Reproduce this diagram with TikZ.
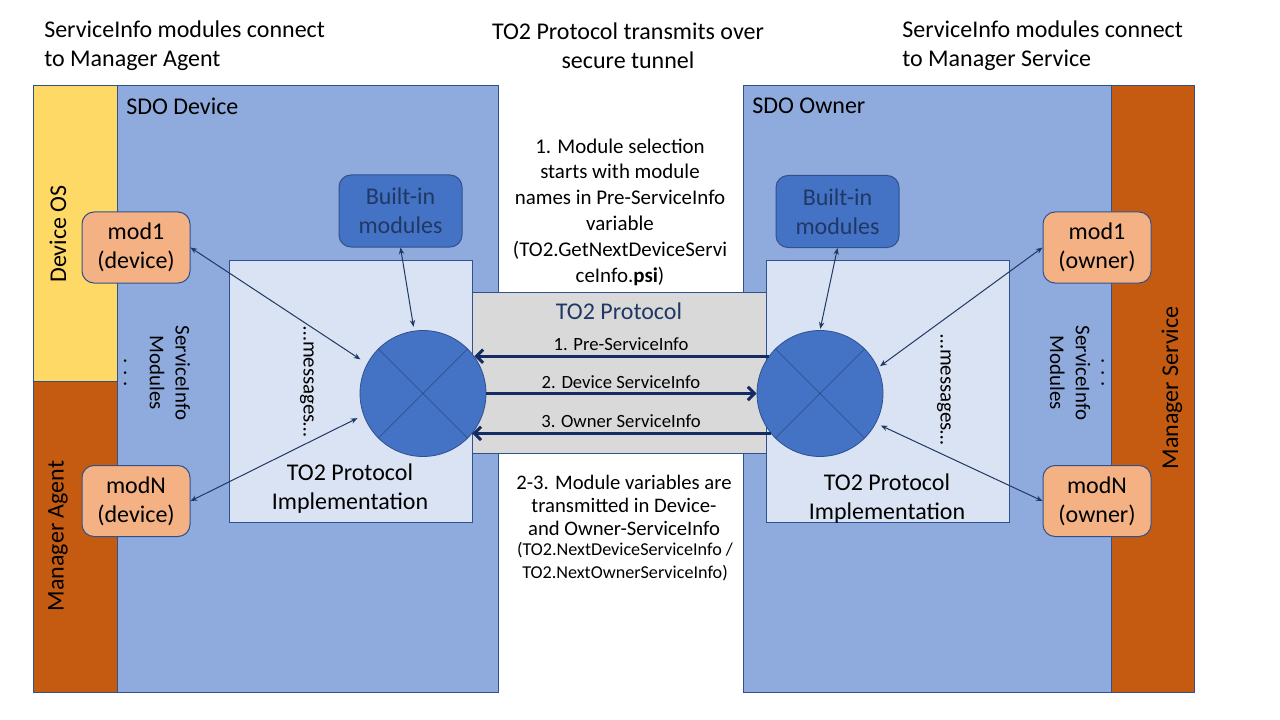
\documentclass[tikz,border=0pt]{standalone}
\usepackage{fontspec}
\setmainfont{Carlito}
\usetikzlibrary{arrows.meta}
\definecolor{panel}{HTML}{8FAADC}
\definecolor{impl}{HTML}{DAE3F3}
\definecolor{osy}{HTML}{FFD966}
\definecolor{mgr}{HTML}{C55A11}
\definecolor{modc}{HTML}{F4B183}
\definecolor{band}{HTML}{D9D9D9}
\definecolor{edge}{HTML}{2F528F}
\definecolor{navy}{HTML}{203864}
\definecolor{hub}{HTML}{4472C4}
\definecolor{arrowc}{HTML}{142B63}
\tikzset{
  f18/.style={font=\fontsize{18}{21.75}\selectfont},
  f16/.style={font=\fontsize{15.7}{19.35}\selectfont},
  f14/.style={font=\fontsize{14}{17}\selectfont},
  txt/.style={inner sep=0pt, text=black},
  region/.style={draw=edge, line width=0.75pt},
  modbox/.style={draw=edge, line width=0.75pt, fill=modc, rounded corners=9pt,
    minimum width=81pt, minimum height=53.25pt, align=center, f18, inner sep=0pt},
  builtin/.style={draw=edge, line width=0.75pt, fill=hub, rounded corners=9pt,
    minimum width=92.25pt, minimum height=54pt, align=center, f18, text=navy, inner sep=0pt},
  hubnode/.style={circle, draw=edge, line width=0.6pt, fill=hub, minimum size=94.5pt, inner sep=0pt},
  cross/.style={draw=navy!70!hub, line width=0.35pt},
  link/.style={draw=navy, line width=0.75pt,
    {Stealth[length=5pt,width=4pt]}-{Stealth[length=5pt,width=4pt]}},
  proto/.style={draw=arrowc, line width=2.25pt, -{Straight Barb[length=5pt,width=10pt]}},
}
\begin{document}
\begin{tikzpicture}[x=0.75pt,y=-0.75pt]
\useasboundingbox (0,0) rectangle (1280,720);
\fill[white] (0,0) rectangle (1280,720);

% panels
\draw[region, fill=panel] (33,86) rectangle (498,692);
\draw[region, fill=osy] (33,86) rectangle (117,381);
\draw[region, fill=mgr] (33,381) rectangle (117,692);
\draw[region, fill=panel] (743,86) rectangle (1194,692);
\draw[region, fill=mgr] (1111,86) rectangle (1194,692);

% protocol band and implementation boxes
\draw[region, fill=band] (472,292) rectangle (766,453);
\draw[region, fill=impl] (229,260) rectangle (472,522);
\draw[region, fill=impl] (766,260) rectangle (1009,522);

% titles
\node[txt, f18, align=left, anchor=west] (tl) at (44,45.5) {ServiceInfo modules connect\\to Manager Agent};
\node[txt, f18, align=center] (tc) at (628,45.5) {TO2 Protocol transmits over\\secure tunnel};
\node[txt, f18, align=left, anchor=west] (tr) at (902,45.5) {ServiceInfo modules connect\\to Manager Service};

\node[txt, f18, anchor=west] (sdod) at (126,106) {SDO Device};
\node[txt, f18, anchor=west] (sdoo) at (752,106) {SDO Owner};
\node[txt, f18, rotate=90] (devos) at (58,234) {Device OS};
\node[txt, f18, rotate=90] (magent) at (58,536) {Manager Agent};
\node[txt, f18, rotate=90] (mserv) at (1172,388) {Manager Service};

\node[txt, f16, align=center, rotate=-90] (simL) at (157,373) {ServiceInfo\\Modules\\. . .};
\node[txt, f16, align=center, rotate=-90] (simR) at (1077,373) {. . .\\ServiceInfo\\Modules};
\node[txt, f16, rotate=-90] (msgL) at (307,382) {…messages…};
\node[txt, f16, rotate=-90] (msgR) at (944,390) {…messages…};

\node[txt, f18, align=center] (implL) at (350,489) {TO2 Protocol\\Implementation};
\node[txt, f18, align=center] (implR) at (887,499) {TO2 Protocol\\Implementation};

% center texts
\node[txt, f16, align=center] (sel) at (620,212) {1. Module selection\\starts with module\\names in Pre-ServiceInfo\\variable\\(TO2.GetNextDeviceServi\\ceInfo.\textbf{psi})};
\node[txt, font=\fontsize{15.5}{17.25}\selectfont, align=center] (var) at (624,505) {2-3. Module variables are\\transmitted in Device-\\and Owner-ServiceInfo};
\node[txt, font=\fontsize{13.6}{17.25}\selectfont, align=center] (varn) at (625,562) {(TO2.NextDeviceServiceInfo /\\TO2.NextOwnerServiceInfo)};
\node[txt, f18, text=navy] (proto) at (619,311) {TO2 Protocol};

% modules
\node[builtin] (biL) at (400.5,211) {Built-in\\modules};
\node[builtin] (biR) at (837.5,211.5) {Built-in\\modules};
\node[modbox] (m1d) at (136,247.5) {mod1\\(device)};
\node[modbox] (mNd) at (136,501) {modN\\(device)};
\node[modbox] (m1o) at (1097,247.5) {mod1\\(owner)};
\node[modbox] (mNo) at (1097,501) {modN\\(owner)};

% hubs
\node[hubnode] (hubL) at (423,393.5) {};
\node[hubnode] (hubR) at (820,393.5) {};
\draw[cross] (hubL.45) -- (hubL.225) (hubL.135) -- (hubL.315);
\draw[cross] (hubR.45) -- (hubR.225) (hubR.135) -- (hubR.315);

% thin links
\draw[link, shorten >=6pt] (m1d.east) -- (hubL.152);
\draw[link, shorten >=5pt] (mNd.east) -- (hubL.200);
\draw[link, shorten >=3pt] (biL.south) -- (hubL.98);
\draw[link, shorten >=1pt] (biR.south) -- (hubR.90);
\draw[link, shorten >=2pt] (m1o.west) -- (hubR.24);
\draw[link, shorten >=4pt] (mNo.west) -- (hubR.332);

% protocol arrows
\draw[proto] (hubR.144) -- (hubL.36);
\draw[proto] (hubL.east) -- (hubR.west);
\draw[proto] (hubR.219) -- (hubL.-39);
\node[txt, f14] (l1) at (621,344) {1. Pre-ServiceInfo};
\node[txt, f14] (l2) at (621,382) {2. Device ServiceInfo};
\node[txt, f14] (l3) at (621,421) {3. Owner ServiceInfo};
\end{tikzpicture}
\end{document}
